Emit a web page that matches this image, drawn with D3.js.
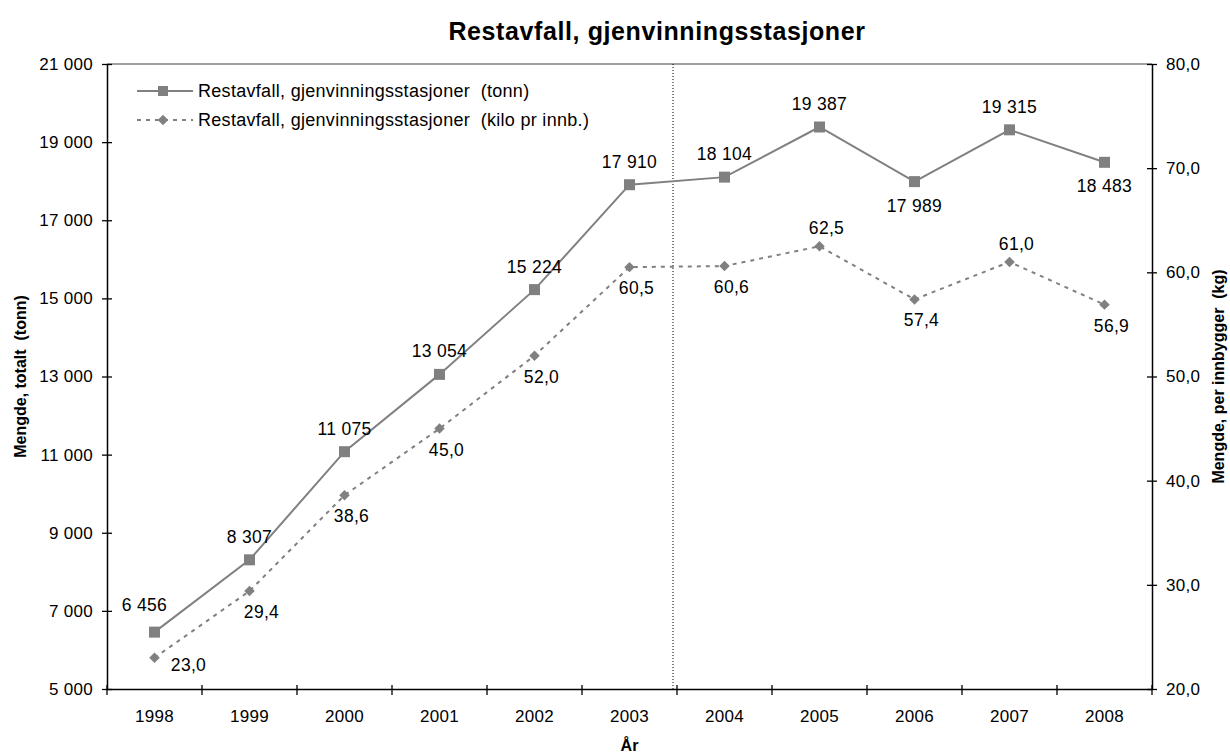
<!DOCTYPE html>
<html lang="en">
<head>
<meta charset="UTF-8">
<title>Restavfall, gjenvinningsstasjoner</title>
<script src="https://cdn.jsdelivr.net/npm/d3@7"></script>
<style>
  body { margin: 0; background: #fff; }
  svg text { font-family: "Liberation Sans", Arial, sans-serif; fill: #000; white-space: pre; }
</style>
</head>
<body>
<svg id="mainsvg" width="1230" height="754"></svg>
<script>
  // data
  const years = ["1998", "1999", "2000", "2001", "2002", "2003", "2004", "2005", "2006", "2007", "2008"];
  const tonn = [6456, 8307, 11075, 13054, 15224, 17910, 18104, 19387, 17989, 19315, 18483];
  const kilo = [23.0, 29.4, 38.6, 45.0, 52.0, 60.5, 60.6, 62.5, 57.4, 61.0, 56.9];
  const leftTicks = [5000, 7000, 9000, 11000, 13000, 15000, 17000, 19000, 21000];
  const rightTicks = [20, 30, 40, 50, 60, 70, 80];

  const svg = d3.select("#mainsvg");
  const margin = {top: 64, right: 78, bottom: 65, left: 107};
  const width = +svg.attr("width");
  const height = +svg.attr("height");
  const innerWidth = width - margin.left - margin.right;
  const innerHeight = height - margin.top - margin.bottom;
  const grey = "#808080";

  const g = svg.append("g").attr("transform", `translate(${margin.left}, ${margin.top})`);

  const x = d3.scaleBand().domain(years).range([0, innerWidth]).padding(0);
  const cx = d => x(d) + x.bandwidth() / 2;
  const yL = d3.scaleLinear().domain([5000, 21000]).range([innerHeight, 0]);
  const yR = d3.scaleLinear().domain([20, 80]).range([innerHeight, 0]);

  const fmtT = v => d3.format(",")(v).replace(/,/g, " ");
  const fmtK = v => d3.format(".1f")(v).replace(".", ",");

  // top border
  g.append("line").attr("x1", 0).attr("x2", innerWidth).attr("y1", 0).attr("y2", 0)
    .attr("stroke", grey).attr("stroke-width", 1.5);

  // divider between 2003 and 2004
  const divX = x("2004") - 4;
  g.append("line").attr("x1", divX).attr("x2", divX).attr("y1", 0).attr("y2", innerHeight)
    .attr("stroke", "#000").attr("stroke-width", 1).attr("stroke-dasharray", "1,2");

  // axes
  const leftAxis = d3.axisLeft(yL).tickValues(leftTicks).tickFormat(fmtT).tickSize(5).tickSizeOuter(0).tickPadding(9);
  const gl = g.append("g").call(leftAxis);
  gl.selectAll(".tick line").attr("x2", 5).attr("x1", -5);
  const rightAxis = d3.axisRight(yR).tickValues(rightTicks).tickFormat(fmtK).tickSize(5).tickSizeOuter(0).tickPadding(9);
  const gr = g.append("g").attr("transform", `translate(${innerWidth},0)`).call(rightAxis);
  gr.selectAll(".tick line").attr("x1", -5).attr("x2", 5);

  const bottomAxis = d3.axisBottom(x).tickSize(0).tickPadding(21);
  const gb = g.append("g").attr("transform", `translate(0,${innerHeight})`).call(bottomAxis);
  const boundaries = years.map(d => x(d)).concat([innerWidth]);
  gb.selectAll(".bnd").data(boundaries).join("line").attr("class", "bnd")
    .attr("x1", d => d).attr("x2", d => d).attr("y1", -4).attr("y2", 6)
    .attr("stroke", "#000").attr("stroke-width", 1.3);

  [gl, gr, gb].forEach(a => {
    a.attr("font-size", 17).attr("font-family", "Liberation Sans, Arial, sans-serif");
    a.selectAll("text").attr("font-size", 17).attr("letter-spacing", 0.3);
    a.select(".domain").attr("stroke", "#000").attr("stroke-width", 1.5);
    a.selectAll(".tick line").attr("stroke", "#000").attr("stroke-width", 1.3);
  });

  // lines
  const lineT = d3.line().x((d, i) => cx(years[i])).y(d => yL(d));
  const lineK = d3.line().x((d, i) => cx(years[i])).y(d => yR(d));

  g.append("path").datum(tonn).attr("d", lineT).attr("fill", "none")
    .attr("stroke", grey).attr("stroke-width", 2);
  g.append("path").datum(kilo).attr("d", lineK).attr("fill", "none")
    .attr("stroke", grey).attr("stroke-width", 2).attr("stroke-dasharray", "4,5");

  g.selectAll(".sq").data(tonn).join("rect").attr("class", "sq")
    .attr("x", (d, i) => cx(years[i]) - 5.5).attr("y", d => yL(d) - 5.5)
    .attr("width", 11).attr("height", 11).attr("fill", grey);

  const diamond = d3.symbol().type(d3.symbolDiamond2).size(70);
  g.selectAll(".dm").data(kilo).join("path").attr("class", "dm")
    .attr("d", diamond)
    .attr("transform", (d, i) => `translate(${cx(years[i])},${yR(d)})`)
    .attr("fill", grey);

  // data labels
  const tBelow = new Set(["2006", "2008"]);
  g.selectAll(".lt").data(tonn).join("text").attr("class", "lt")
    .attr("x", (d, i) => cx(years[i]) + (i === 0 ? -10 : 0))
    .attr("y", (d, i) => tBelow.has(years[i]) ? yL(d) + 30 : yL(d) - (i === 0 ? 21 : 17))
    .attr("text-anchor", "middle").attr("font-size", 17.5).attr("letter-spacing", 0.3)
    .text(fmtT);

  const kAbove = new Set(["2005", "2007"]);
  g.selectAll(".lk").data(kilo).join("text").attr("class", "lk")
    .attr("x", (d, i) => cx(years[i]) + (i === 0 ? 34 : (i === 1 ? 12 : 7)))
    .attr("y", (d, i) => kAbove.has(years[i]) ? yR(d) - 12 : yR(d) + (i === 0 ? 13 : 27))
    .attr("text-anchor", "middle").attr("font-size", 17.5).attr("letter-spacing", 0.3)
    .text(fmtK);

  // legend
  const legend = g.append("g").attr("transform", "translate(30, 27)");
  legend.append("line").attr("x1", 0).attr("x2", 56).attr("y1", 0).attr("y2", 0)
    .attr("stroke", grey).attr("stroke-width", 2);
  legend.append("rect").attr("x", 21).attr("y", -5).attr("width", 10).attr("height", 10).attr("fill", grey);
  legend.append("text").attr("x", 61).attr("y", 6).attr("font-size", 18).attr("letter-spacing", 0.3)
    .text("Restavfall, gjenvinningsstasjoner  (tonn)");
  legend.append("line").attr("x1", 0).attr("x2", 56).attr("y1", 29).attr("y2", 29)
    .attr("stroke", grey).attr("stroke-width", 2).attr("stroke-dasharray", "4,5");
  legend.append("path").attr("d", diamond).attr("transform", "translate(26,29)").attr("fill", grey);
  legend.append("text").attr("x", 61).attr("y", 35).attr("font-size", 18).attr("letter-spacing", 0.3)
    .text("Restavfall, gjenvinningsstasjoner  (kilo pr innb.)");

  // titles
  svg.append("text").attr("x", 657).attr("y", 40).attr("text-anchor", "middle")
    .attr("font-size", 25).attr("letter-spacing", 0.6).attr("font-weight", "bold")
    .text("Restavfall, gjenvinningsstasjoner");
  svg.append("text").attr("transform", `translate(26, ${margin.top + innerHeight / 2}) rotate(-90)`)
    .attr("text-anchor", "middle").attr("font-size", 16).attr("font-weight", "bold")
    .text("Mengde, totalt  (tonn)");
  svg.append("text").attr("transform", `translate(1224, ${margin.top + innerHeight / 2}) rotate(-90)`)
    .attr("text-anchor", "middle").attr("font-size", 16).attr("font-weight", "bold")
    .text("Mengde, per innbygger  (kg)");
  svg.append("text").attr("x", margin.left + innerWidth / 2).attr("y", 751).attr("text-anchor", "middle")
    .attr("font-size", 16).attr("font-weight", "bold").text("År");
</script>
</body>
</html>
